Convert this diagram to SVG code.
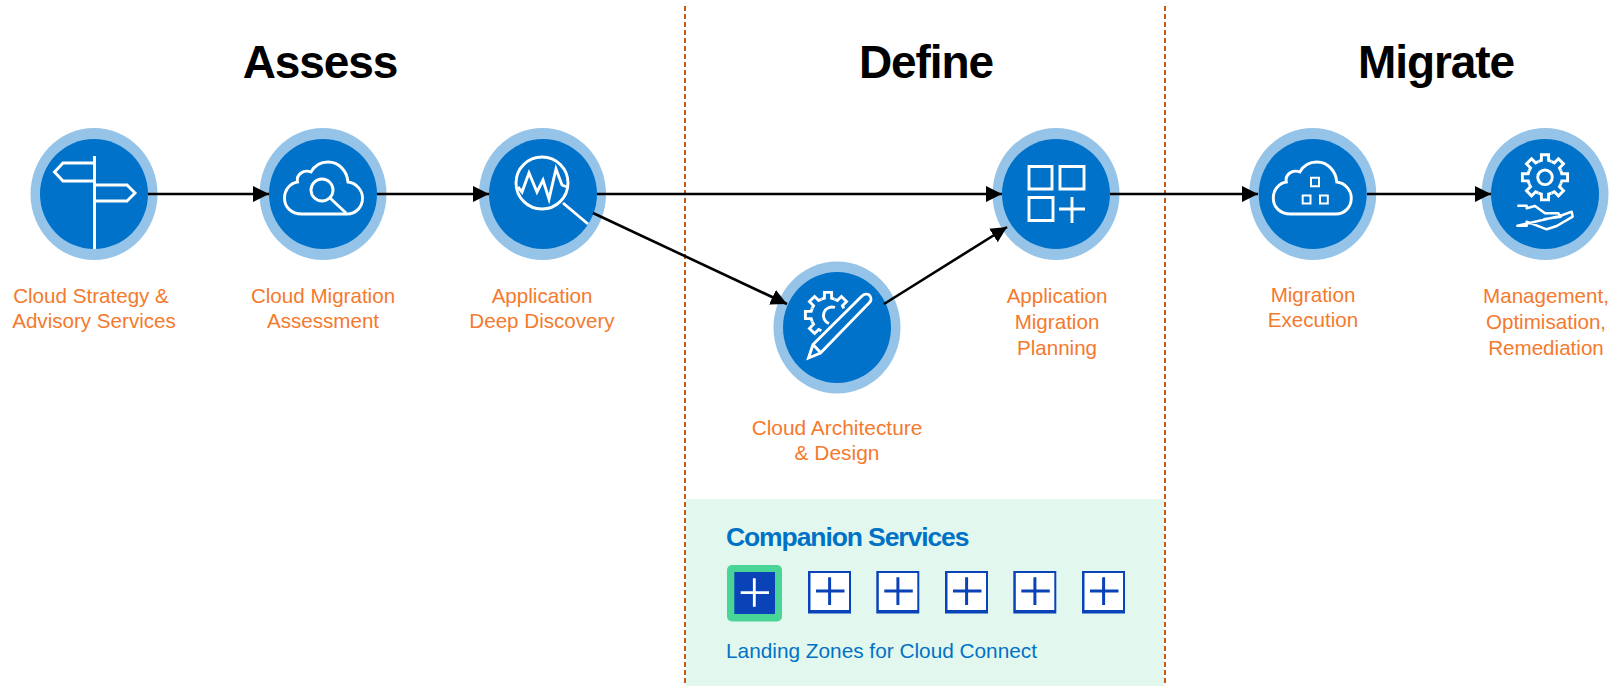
<svg xmlns="http://www.w3.org/2000/svg" width="1618" height="686" viewBox="0 0 1618 686">
<style>
text{font-family:"Liberation Sans",Arial,sans-serif}
.title{font-size:46px;font-weight:700;letter-spacing:-1.1px;text-anchor:middle;fill:#000}
.lbl{font-size:20.6px;text-anchor:middle;fill:#F47A2E}
.ring{fill:#95C4E8}
.core{fill:#0072C9}
.ic{fill:none;stroke:#fff;stroke-width:2.9;stroke-linejoin:miter}
.conn{fill:none;stroke:#000;stroke-width:2.6}
.dash{stroke:#C55A11;stroke-width:2;stroke-dasharray:5 3;fill:none}
.box{fill:#0A43B8}
.inner{fill:#fff}
.plus{fill:none;stroke:#0A43B8;stroke-width:3}
</style>
<defs>
<marker id="arrow" markerUnits="userSpaceOnUse" markerWidth="17" markerHeight="17" refX="16" refY="8" orient="auto"><path d="M0 0L16 8L0 16Z" fill="#000"/></marker>
<path id="tooth" d="M-6.500 -15.900L-3.600 -16.800L-3.600 -22.600L3.600 -22.600L3.600 -16.800L6.500 -15.900"/>
<path id="cloud" d="M302 214C291 214 284.500 207 284.500 198C284.500 189 291 183 297.500 182C296 175 303 169 311 172C315 165 322 162 328 162C339 162 347 171 348 182C356 183 362.500 190 362.500 198C362.500 207 356 214 347 214Z"/>
<g id="tile"><rect class="box" x="0" y="0" width="43" height="42.500"/><rect class="inner" x="2.500" y="2" width="38.500" height="37"/><path class="plus" d="M8 20H36.500M21.600 6.300V34"/></g>
</defs>

<g id="panel"><rect x="686" y="499" width="478" height="187" fill="#E2F8EE"/></g>
<g id="dividers">
<line class="dash" x1="685" y1="6" x2="685" y2="686"/>
<line class="dash" x1="1165" y1="6" x2="1165" y2="686"/>
</g>

<g id="titles">
<text class="title" x="320" y="78">Assess</text>
<text class="title" x="926" y="78">Define</text>
<text class="title" x="1436" y="78">Migrate</text>
</g>

<g id="node-strategy">
<ellipse class="ring" cx="94" cy="194" rx="63.500" ry="66"/>
<ellipse class="core" cx="94" cy="194" rx="54" ry="55"/>
<path class="ic" d="M94.500 156V249M94.500 163H63L54.500 172L63 181H94.500M94.500 185H127L135 193L127 201H94.500"/>
<text class="lbl" x="91" y="303">Cloud Strategy &amp;</text>
<text class="lbl" x="94" y="328">Advisory Services</text>
</g>

<g id="node-assessment">
<ellipse class="ring" cx="323" cy="194" rx="63.500" ry="66"/>
<ellipse class="core" cx="323" cy="194" rx="54" ry="55"/>
<use href="#cloud" class="ic"/>
<circle class="ic" cx="322" cy="190" r="11"/>
<path class="ic" d="M330 198L346 213"/>
<text class="lbl" x="323" y="303">Cloud Migration</text>
<text class="lbl" x="323" y="328">Assessment</text>
</g>

<g id="node-discovery">
<ellipse class="ring" cx="542.500" cy="194" rx="63.500" ry="66"/>
<ellipse class="core" cx="543" cy="194" rx="54" ry="55"/>
<circle class="ic" cx="542" cy="183" r="26"/>
<path class="ic" d="M563 203L588 224M518 187L522 192L529 173L537 192L543 180L549 199L556 169L562 185L567 187"/>
<text class="lbl" x="542" y="303">Application</text>
<text class="lbl" x="542" y="328">Deep Discovery</text>
</g>

<g id="node-architecture">
<ellipse class="ring" cx="837" cy="327.500" rx="63.500" ry="66"/>
<ellipse class="core" cx="837" cy="327.500" rx="54" ry="55.500"/>
<g class="ic" transform="translate(828 315)">
<use href="#tooth" transform="rotate(-135)"/>
<use href="#tooth" transform="rotate(-90)"/>
<use href="#tooth" transform="rotate(-45)"/>
<use href="#tooth"/>
<use href="#tooth" transform="rotate(45)"/>
</g>
<path class="ic" d="M835 307.500A8 8 0 1 0 829 323.500"/>
<path class="ic" d="M808.500 358L813 344.500L862 296C865 293 869 294 870 296C871.500 298 871.500 301 869 303L820.500 353ZM813 344.500L821 353"/>
<text class="lbl" x="837" y="435" style="font-size:20.900px">Cloud Architecture</text>
<text class="lbl" x="837" y="460" style="font-size:20.900px">&amp; Design</text>
</g>

<g id="node-planning">
<ellipse class="ring" cx="1056" cy="194" rx="63.500" ry="66"/>
<ellipse class="core" cx="1056" cy="194" rx="54" ry="55"/>
<path class="ic" d="M1029 166.500H1052V189H1029ZM1060 166.500H1084V189H1060ZM1029 197.500H1053V220.500H1029ZM1059 209H1085M1072 197V223"/>
<text class="lbl" x="1057" y="303">Application</text>
<text class="lbl" x="1057" y="329">Migration</text>
<text class="lbl" x="1057" y="355">Planning</text>
</g>

<g id="node-execution">
<ellipse class="ring" cx="1312.700" cy="194" rx="63.500" ry="66"/>
<ellipse class="core" cx="1312.700" cy="194" rx="54" ry="55"/>
<use href="#cloud" class="ic" transform="translate(988.800 0)"/>
<path class="ic" style="stroke-width:2" d="M1311 177.700H1319V186.200H1311ZM1302.700 195.500H1310.500V203.500H1302.700ZM1320 195.500H1327.800V203.500H1320Z"/>
<text class="lbl" x="1313" y="302">Migration</text>
<text class="lbl" x="1313" y="327">Execution</text>
</g>

<g id="node-management">
<ellipse class="ring" cx="1545" cy="194" rx="63.500" ry="66"/>
<ellipse class="core" cx="1545" cy="194" rx="54" ry="55"/>
<g class="ic" transform="translate(1545 177.300)">
<use href="#tooth"/>
<use href="#tooth" transform="rotate(45)"/>
<use href="#tooth" transform="rotate(90)"/>
<use href="#tooth" transform="rotate(135)"/>
<use href="#tooth" transform="rotate(180)"/>
<use href="#tooth" transform="rotate(225)"/>
<use href="#tooth" transform="rotate(270)"/>
<use href="#tooth" transform="rotate(315)"/>
<circle r="7.300"/>
</g>
<path class="ic" style="stroke-linejoin:round;stroke-width:2.500" d="M1517.300 205.700H1526.700V208.300L1535 206L1545 213.300L1558.300 213.300L1560.700 216.700L1543.300 219.300M1560 216L1571.700 211.700L1572.700 216.700L1556.700 226L1546.700 229.300L1526.700 221.700V225.700H1517.300Z"/>
<text class="lbl" x="1546" y="303">Management,</text>
<text class="lbl" x="1546" y="329">Optimisation,</text>
<text class="lbl" x="1546" y="355">Remediation</text>
</g>

<g id="connectors">
<path class="conn" marker-end="url(#arrow)" d="M148 194H269"/>
<path class="conn" marker-end="url(#arrow)" d="M377 194H489"/>
<path class="conn" marker-end="url(#arrow)" d="M597 194H1002"/>
<path class="conn" marker-end="url(#arrow)" d="M593 213L787 304"/>
<path class="conn" marker-end="url(#arrow)" d="M884 304L1007 227"/>
<path class="conn" marker-end="url(#arrow)" d="M1110 194H1258"/>
<path class="conn" marker-end="url(#arrow)" d="M1367 194H1491"/>
</g>

<g id="companion">
<text x="726" y="546" font-size="26.500" font-weight="700" letter-spacing="-1.100" fill="#0072C6">Companion Services</text>
<rect x="727" y="565" width="55" height="56.500" rx="5" fill="#48D597"/>
<rect x="734.300" y="572" width="40.700" height="42" fill="#0A43B8"/>
<path fill="none" stroke="#fff" stroke-width="2.800" d="M740.700 592.700H769M754.300 578.300V606.700"/>
<use id="tile-2" href="#tile" transform="translate(808 571)"/>
<use id="tile-3" href="#tile" transform="translate(876.300 571)"/>
<use id="tile-4" href="#tile" transform="translate(945 571)"/>
<use id="tile-5" href="#tile" transform="translate(1013.300 571)"/>
<use id="tile-6" href="#tile" transform="translate(1082 571)"/>
<text x="726" y="658" font-size="20.800" fill="#0072C6">Landing Zones for Cloud Connect</text>
</g>
</svg>
